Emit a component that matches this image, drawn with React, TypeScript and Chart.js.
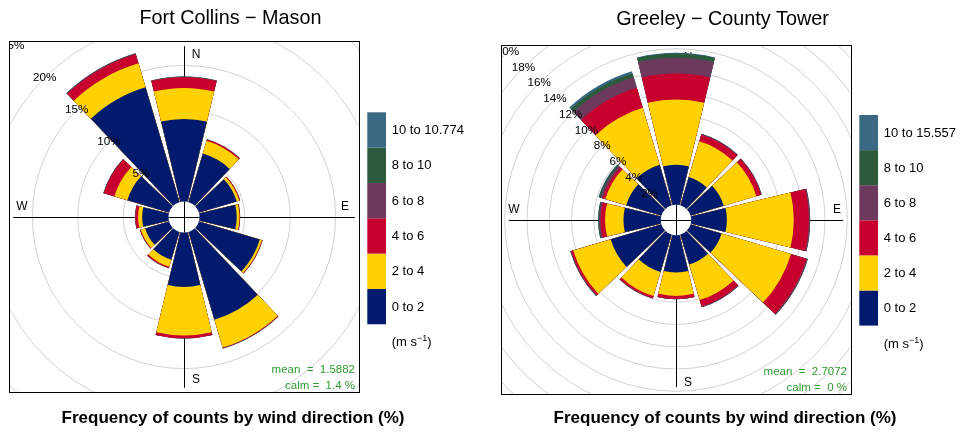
import React, { useEffect, useRef } from 'react';
import { Chart, registerables } from 'chart.js';

Chart.register(...registerables);

// ---------------- data ----------------
const DIRECTIONS = ['N', 'NNE', 'ENE', 'E', 'ESE', 'SSE', 'S', 'SSW', 'WSW', 'W', 'WNW', 'NNW'];
const SPEED_COLOURS = ['#001A6E', '#FFD100', '#C8002E', '#6D3A5D', '#2B5B3C', '#3B6883'];

// Fort Collins - Mason : frequency (%) per speed bin and direction
const FC_TITLE = 'Fort Collins \u2212 Mason';
const FC_SPEED_LABELS = ['0 to 2', '2 to 4', '4 to 6', '6 to 8', '8 to 10', '10 to 10.774'];
const FC_SPD_0_2 = [9.1, 5.6, 4.35, 4.1, 7.0, 10.1, 6.0, 3.2, 2.75, 2.9, 4.8, 13.2];
const FC_SPD_2_4 = [3.4, 1.45, 0.3, 0.3, 0.25, 3.2, 5.35, 0.8, 0.5, 0.45, 1.5, 2.75];
const FC_SPD_4_6 = [1.2, 0.15, 0.07, 0.05, 0.05, 0.05, 0.3, 0.15, 0.07, 0.3, 1.2, 1.05];
const FC_SPD_6_8 = [0.05, 0.02, 0.03, 0.03, 0.03, 0.05, 0.02, 0.02, 0.03, 0.03, 0.05, 0.08];
const FC_SPD_8_10 = [0.01, 0, 0, 0, 0, 0.01, 0, 0, 0, 0, 0.01, 0.02];
const FC_SPD_10_UP = [0, 0, 0, 0, 0, 0, 0, 0, 0, 0, 0, 0.01];
const FC_GRID = [5, 10, 15, 20, 25];
const FC_MEAN = '1.5882';
const FC_CALM = '1.4';
const FC_R_MAX = 17.575;

// Greeley - County Tower
const GR_TITLE = 'Greeley \u2212 County Tower';
const GR_SPEED_LABELS = ['0 to 2', '2 to 4', '4 to 6', '6 to 8', '8 to 10', '10 to 15.557'];
const GR_SPD_0_2 = [3.6, 2.65, 3.1, 3.2, 2.9, 2.8, 3.35, 3.5, 4.75, 3.35, 3.3, 3.8];
const GR_SPD_2_4 = [5.85, 3.35, 3.05, 6.0, 6.5, 3.33, 2.1, 2.25, 3.5, 1.65, 1.95, 5.33];
const GR_SPD_4_6 = [2.33, 0.6, 0.45, 1.35, 1.45, 0.59, 0.27, 0.2, 0.2, 0.4, 0.25, 1.87];
const GR_SPD_6_8 = [1.41, 0.08, 0.05, 0.1, 0.1, 0.06, 0.03, 0.03, 0.06, 0.15, 0.2, 1.0];
const GR_SPD_8_10 = [0.39, 0.02, 0.01, 0.02, 0.02, 0.01, 0, 0, 0.02, 0.07, 0.15, 0.35];
const GR_SPD_10_UP = [0.05, 0, 0, 0, 0, 0, 0, 0, 0, 0.01, 0.05, 0.2];
const GR_GRID = [2, 4, 6, 8, 10, 12, 14, 16, 18, 20];
const GR_MEAN = '2.7072';
const GR_CALM = '0';
const GR_R_MAX = 14.332;

const FOOT_TEXT = 'Frequency of counts by wind direction (%)';

// ---------------- styling / layout ----------------
const FONT = '"Liberation Sans", Arial, Helvetica, sans-serif';
const GRID_COLOUR = '#d2d2d2';
const STAT_COLOUR = '#2f9a2f';
const CANVAS_W = 469;
const CANVAS_H = 433;
const SECTOR = 30;
const WEDGE = 27;

type PanelSpec = {
  title: string;
  bins: number[][];
  speedLabels: string[];
  grid: number[];
  mean: string;
  calm: string;
  rMax: number;
  canvasLeft: number;
  area: { left: number; top: number; width: number; height: number };
  titleBaseline: number;
  footBaseline: number;
  legendTop: number;
  legendItemH: number;
};

const PANELS: PanelSpec[] = [
  {
    title: FC_TITLE,
    bins: [FC_SPD_0_2, FC_SPD_2_4, FC_SPD_4_6, FC_SPD_6_8, FC_SPD_8_10, FC_SPD_10_UP],
    speedLabels: FC_SPEED_LABELS,
    grid: FC_GRID,
    mean: FC_MEAN,
    calm: FC_CALM,
    rMax: FC_R_MAX,
    canvasLeft: 0,
    area: { left: 9, top: 41, width: 351, height: 352 },
    titleBaseline: 24,
    footBaseline: 423,
    legendTop: 112.3,
    legendItemH: 35.33,
  },
  {
    title: GR_TITLE,
    bins: [GR_SPD_0_2, GR_SPD_2_4, GR_SPD_4_6, GR_SPD_6_8, GR_SPD_8_10, GR_SPD_10_UP],
    speedLabels: GR_SPEED_LABELS,
    grid: GR_GRID,
    mean: GR_MEAN,
    calm: GR_CALM,
    rMax: GR_R_MAX,
    canvasLeft: 492,
    area: { left: 9, top: 45, width: 351, height: 350 },
    titleBaseline: 24.5,
    footBaseline: 423.3,
    legendTop: 115,
    legendItemH: 35.1,
  },
];

function font(size: number, bold = false) {
  return `${bold ? 'bold ' : ''}${size}px ${FONT}`;
}

function buildConfig(spec: PanelSpec): any {
  const totals = DIRECTIONS.map((_, d) => spec.bins.reduce((s, b) => s + b[d], 0));
  const maxTotal = Math.max(...totals);
  const offset = 0.1 * maxTotal;
  const cumulative = spec.bins.map((_, j) =>
    DIRECTIONS.map((_, d) => spec.bins.slice(0, j + 1).reduce((s, b) => s + b[d], 0))
  );

  const labels = DIRECTIONS.flatMap((d) => [d, '']);
  const datasets = cumulative.map((vals, j) => ({
    label: spec.speedLabels[j],
    data: vals.flatMap((v) => [v, 0]),
    backgroundColor: (c: any) => (c.dataIndex % 2 === 0 ? SPEED_COLOURS[j] : 'rgba(0,0,0,0)'),
    borderWidth: 0,
    angle: (c: any) => (c.dataIndex % 2 === 0 ? WEDGE : SECTOR - WEDGE),
  }));

  const plugin = {
    id: 'windRose',
    beforeDatasetsDraw(chart: any) {
      const { ctx, chartArea: a } = chart;
      const s = chart.scales.r;
      const cx = s.xCenter;
      const cy = s.yCenter;
      ctx.save();
      ctx.beginPath();
      ctx.rect(a.left, a.top, a.right - a.left, a.bottom - a.top);
      ctx.clip();
      ctx.strokeStyle = GRID_COLOUR;
      ctx.lineWidth = 1;
      spec.grid.forEach((v) => {
        ctx.beginPath();
        ctx.arc(cx, cy, s.getDistanceFromCenterForValue(v), 0, Math.PI * 2);
        ctx.stroke();
      });
      const axR = s.getDistanceFromCenterForValue(maxTotal);
      ctx.strokeStyle = '#000';
      ctx.beginPath();
      ctx.moveTo(cx + 0.5, cy - axR);
      ctx.lineTo(cx + 0.5, cy + axR);
      ctx.moveTo(cx - axR, cy + 0.5);
      ctx.lineTo(cx + axR, cy + 0.5);
      ctx.stroke();
      ctx.fillStyle = '#000';
      ctx.font = font(12);
      ctx.textAlign = 'center';
      ctx.textBaseline = 'middle';
      ctx.fillText('N', cx + 12, cy - 162);
      ctx.fillText('E', cx + 161, cy - 10.5);
      ctx.fillText('S', cx + 12, cy + 163);
      ctx.fillText('W', cx - 162, cy - 10.5);
      ctx.restore();
    },
    afterDatasetsDraw(chart: any) {
      const { ctx, chartArea: a } = chart;
      const s = chart.scales.r;
      const cx = s.xCenter;
      const cy = s.yCenter;
      ctx.save();
      ctx.beginPath();
      ctx.rect(a.left, a.top, a.right - a.left, a.bottom - a.top);
      ctx.clip();
      const hole = s.getDistanceFromCenterForValue(0);
      ctx.fillStyle = '#fff';
      ctx.beginPath();
      ctx.arc(cx, cy, hole, 0, Math.PI * 2);
      ctx.fill();
      ctx.strokeStyle = '#000';
      ctx.lineWidth = 1;
      ctx.beginPath();
      ctx.moveTo(cx + 0.5, cy - hole);
      ctx.lineTo(cx + 0.5, cy + hole);
      ctx.moveTo(cx - hole, cy + 0.5);
      ctx.lineTo(cx + hole, cy + 0.5);
      ctx.stroke();
      ctx.fillStyle = '#000';
      ctx.font = font(11.7);
      ctx.textAlign = 'center';
      ctx.textBaseline = 'middle';
      spec.grid.forEach((v) => {
        const r = s.getDistanceFromCenterForValue(v) * Math.SQRT1_2;
        ctx.fillText(`${v}%`, cx - r, cy - r);
      });
      ctx.fillStyle = STAT_COLOUR;
      ctx.font = font(11.5);
      ctx.textAlign = 'right';
      ctx.textBaseline = 'alphabetic';
      ctx.fillText(`mean  =  ${spec.mean}`, a.right - 5, a.bottom - 20.5);
      ctx.fillText(`calm =  ${spec.calm} %`, a.right - 5, a.bottom - 4.3);
      ctx.restore();
    },
    afterDraw(chart: any) {
      const { ctx, chartArea: a } = chart;
      ctx.save();
      ctx.strokeStyle = '#000';
      ctx.lineWidth = 1;
      ctx.strokeRect(a.left + 0.5, a.top + 0.5, a.right - a.left - 1, a.bottom - a.top - 1);
      ctx.fillStyle = '#000';
      ctx.textAlign = 'center';
      ctx.textBaseline = 'alphabetic';
      ctx.font = font(19.8);
      ctx.fillText(spec.title, 230.5, spec.titleBaseline);
      ctx.font = font(17, true);
      ctx.fillText(FOOT_TEXT, 233, spec.footBaseline);
      const lx = 367.3;
      const lw = 18.7;
      const n = SPEED_COLOURS.length;
      ctx.textAlign = 'left';
      ctx.textBaseline = 'middle';
      ctx.font = font(13);
      for (let j = 0; j < n; j++) {
        const y = spec.legendTop + (n - 1 - j) * spec.legendItemH;
        ctx.fillStyle = SPEED_COLOURS[j];
        ctx.fillRect(lx, y, lw, spec.legendItemH);
        ctx.fillStyle = '#000';
        ctx.fillText(spec.speedLabels[j], lx + lw + 5.7, y + spec.legendItemH / 2 + 0.5);
      }
      const uy = spec.legendTop + n * spec.legendItemH + 22;
      ctx.textBaseline = 'alphabetic';
      ctx.font = font(13);
      let ux = lx + lw + 5.7;
      ctx.fillText('(m s', ux, uy);
      ux += ctx.measureText('(m s').width;
      ctx.font = font(9);
      ctx.fillText('\u22121', ux, uy - 5);
      ux += ctx.measureText('\u22121').width;
      ctx.font = font(13);
      ctx.fillText(')', ux, uy);
      ctx.restore();
    },
  };

  return {
    type: 'polarArea',
    data: { labels, datasets },
    options: {
      responsive: false,
      animation: false,
      devicePixelRatio: 1,
      events: [],
      layout: {
        padding: {
          left: spec.area.left,
          top: spec.area.top,
          right: CANVAS_W - spec.area.left - spec.area.width,
          bottom: CANVAS_H - spec.area.top - spec.area.height,
        },
      },
      plugins: {
        legend: { display: false },
        title: { display: false },
        tooltip: { enabled: false },
      },
      scales: {
        r: {
          type: 'radialLinear',
          min: -offset,
          max: spec.rMax,
          startAngle: -WEDGE / 2,
          ticks: { display: false },
          grid: { display: false },
          angleLines: { display: false },
          pointLabels: { display: false },
        },
      },
    },
    plugins: [plugin],
  };
}

function RosePanel({ spec }: { spec: PanelSpec }) {
  const ref = useRef<HTMLCanvasElement | null>(null);
  useEffect(() => {
    if (!ref.current) return;
    const chart = new Chart(ref.current, buildConfig(spec));
    return () => chart.destroy();
  }, [spec]);
  return (
    <canvas
      ref={ref}
      width={CANVAS_W}
      height={CANVAS_H}
      style={{ position: 'absolute', left: spec.canvasLeft, top: 0, width: CANVAS_W, height: CANVAS_H }}
    />
  );
}

export default function App() {
  return (
    <div
      style={{
        position: 'fixed',
        left: 0,
        top: 0,
        width: 961,
        height: 433,
        overflow: 'hidden',
        background: '#fff',
      }}
    >
      {PANELS.map((p) => (
        <RosePanel key={p.title} spec={p} />
      ))}
    </div>
  );
}
